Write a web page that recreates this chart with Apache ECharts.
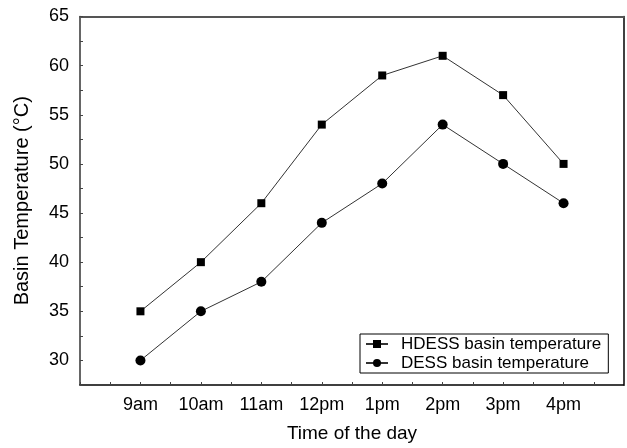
<!DOCTYPE html>
<html>
<head>
<meta charset="utf-8">
<script src="https://cdn.jsdelivr.net/npm/echarts@6/dist/echarts.min.js"></script>
<style>html,body{margin:0;padding:0;background:#fff}#c{width:627px;height:448px}</style>
</head>
<body>
<div id="c"></div>
<script>
var categories = ['9am', '10am', '11am', '12pm', '1pm', '2pm', '3pm', '4pm'];
var hdess = [35, 40, 46, 54, 59, 61, 57, 50];
var dess = [30, 35, 38, 44, 48, 54, 50, 46];
var yTicks = [30, 35, 40, 45, 50, 55, 60, 65];

function pairs(arr) { return arr.map(function (v, i) { return [i, v]; }); }
var FONT = 'Liberation Sans, Arial, Helvetica, sans-serif';

var chart = echarts.init(document.getElementById('c'), null, {renderer: 'canvas'});
chart.setOption({
  animation: false,
  backgroundColor: '#fff',
  grid: {left: 80, right: 2, top: 16.5, bottom: 59},
  xAxis: [{
    type: 'value', min: -1, max: 8, interval: 0.5,
    name: 'Time of the day', nameLocation: 'middle', nameGap: 39,
    nameTextStyle: {fontFamily: FONT, fontSize: 19, color: '#000'},
    axisLine: {show: true, onZero: false, lineStyle: {color: '#000', width: 1.5}},
    axisTick: {show: true, inside: true, length: 3, lineStyle: {color: '#444', width: 1}},
    axisLabel: {
      fontFamily: FONT, fontSize: 18, color: '#000', margin: 11,
      formatter: function (v) {
        return (Math.abs(v - Math.round(v)) < 1e-6 && v >= 0 && v < categories.length) ? categories[Math.round(v)] : '';
      }
    },
    splitLine: {show: false}
  }, {
    type: 'value', position: 'top', min: -1, max: 8,
    axisLine: {show: true, onZero: false, lineStyle: {color: '#555', width: 2}},
    axisTick: {show: false}, axisLabel: {show: false}, splitLine: {show: false}
  }],
  yAxis: [{
    type: 'value', min: 27.5, max: 65, interval: 2.5,
    name: 'Basin Temperature (\u00B0C)', nameLocation: 'middle', nameGap: 48, nameRotate: 90,
    nameTextStyle: {fontFamily: FONT, fontSize: 20, color: '#000'},
    axisLine: {show: true, onZero: false, lineStyle: {color: '#333', width: 1.5}},
    axisTick: {show: true, inside: true, length: 3, lineStyle: {color: '#444', width: 1}},
    axisLabel: {
      fontFamily: FONT, fontSize: 18, color: '#000', margin: 11,
      formatter: function (v) { return yTicks.indexOf(v) >= 0 ? String(v) : ''; }
    },
    splitLine: {show: false}
  }, {
    type: 'value', position: 'right', min: 27.5, max: 65,
    axisLine: {show: true, onZero: false, lineStyle: {color: '#000', width: 1.5}},
    axisTick: {show: false}, axisLabel: {show: false}, splitLine: {show: false}
  }],
  legend: {
    orient: 'vertical', left: 360, top: 334,
    padding: [1, 7, 1, 5], itemGap: 1,
    itemWidth: 22, itemHeight: 10,
    borderColor: '#000', borderWidth: 1,
    textStyle: {fontFamily: FONT, fontSize: 17, color: '#000', lineHeight: 18, padding: [0, 0, 0, 8]},
    data: ['HDESS basin temperature', 'DESS basin temperature']
  },
  series: [{
    name: 'HDESS basin temperature', type: 'line', data: pairs(hdess),
    symbol: 'rect', symbolSize: 8,
    itemStyle: {color: '#000'},
    lineStyle: {color: '#333', width: 1}
  }, {
    name: 'DESS basin temperature', type: 'line', data: pairs(dess),
    symbol: 'circle', symbolSize: 10,
    itemStyle: {color: '#000'},
    lineStyle: {color: '#333', width: 1}
  }]
});
</script>
</body>
</html>
